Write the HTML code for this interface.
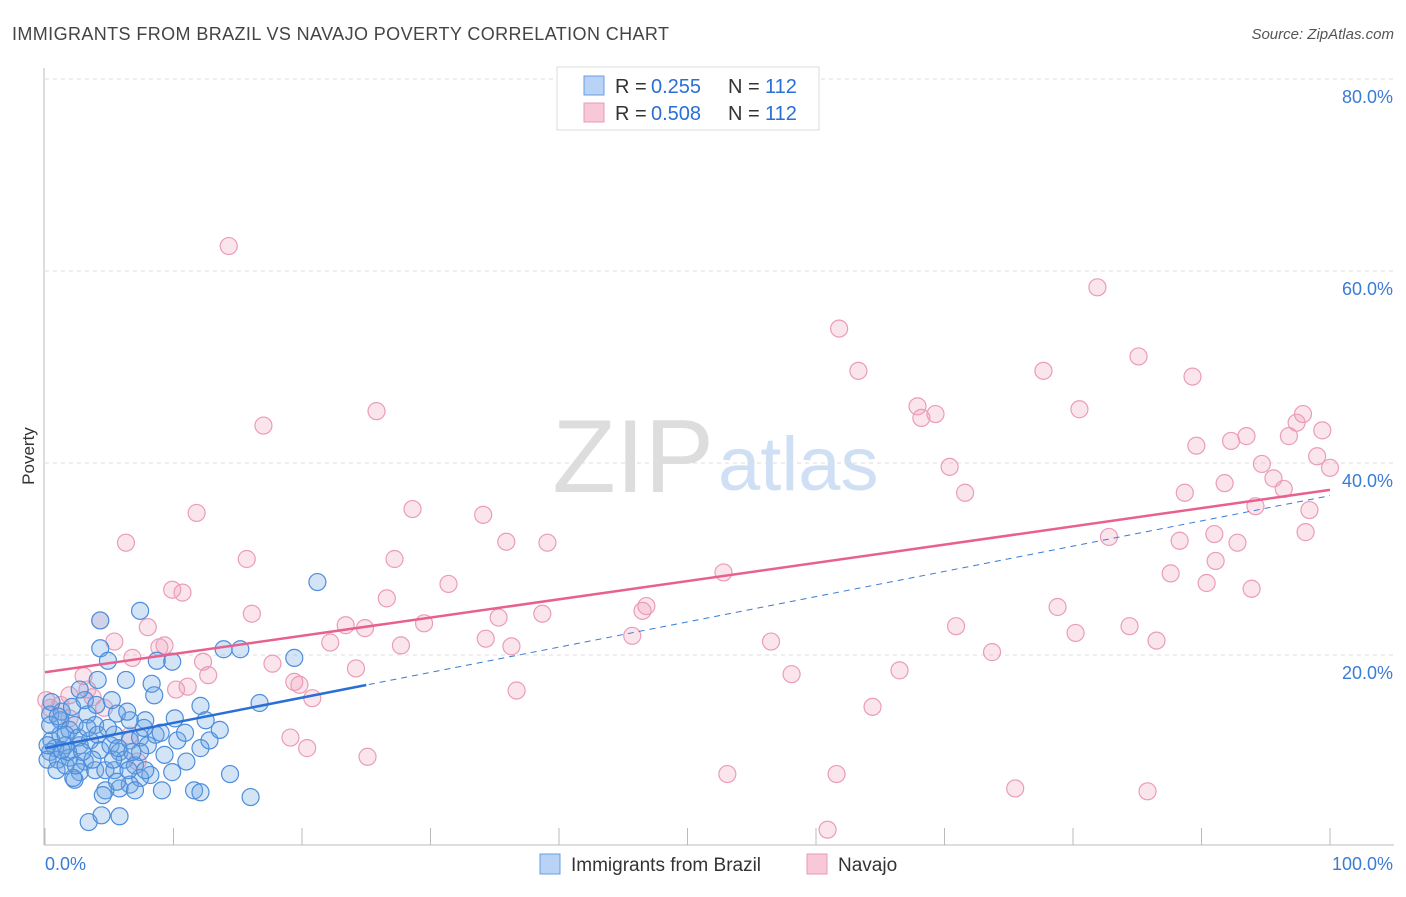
<!DOCTYPE html>
<html><head><meta charset="utf-8"><style>
body{margin:0;background:#fff;font-family:"Liberation Sans",sans-serif}
svg text{font-family:"Liberation Sans",sans-serif}
</style></head><body>
<svg id="c" width="1406" height="892" xmlns="http://www.w3.org/2000/svg">
<text x="12" y="40" font-size="18" fill="#444" textLength="657">IMMIGRANTS FROM BRAZIL VS NAVAJO POVERTY CORRELATION CHART</text>
<text x="1394" y="39" font-size="15" fill="#555" font-style="italic" text-anchor="end">Source: ZipAtlas.com</text>
<text x="714" y="492" font-size="104" fill="#ddd" text-anchor="end" font-family="Liberation Serif">ZIP</text>
<text x="718" y="490" font-size="76" fill="#cfe0f5">atlas</text>
<text x="34" y="456" font-size="17" fill="#333" text-anchor="middle" transform="rotate(-90 34 456)">Poverty</text>
<g id="grid"></g><g id="pts"></g><g id="trend"></g>
<g>
<rect x="557" y="67" width="262" height="63" fill="#fff" stroke="#ddd"/>
<rect x="584" y="76" width="20" height="19" fill="#b8d3f5" stroke="#6a9ee0"/>
<rect x="584" y="103" width="20" height="19" fill="#f8c8d8" stroke="#e99ab5"/>
<text x="615" y="93" font-size="20" fill="#333">R =</text>
<text x="651" y="93" font-size="20" fill="#2a6fd6">0.255</text>
<text x="728" y="93" font-size="20" fill="#333">N =</text>
<text x="765" y="93" font-size="20" fill="#2a6fd6">112</text>
<text x="615" y="120" font-size="20" fill="#333">R =</text>
<text x="651" y="120" font-size="20" fill="#2a6fd6">0.508</text>
<text x="728" y="120" font-size="20" fill="#333">N =</text>
<text x="765" y="120" font-size="20" fill="#2a6fd6">112</text>
</g>
<g>
<rect x="540" y="854" width="20" height="20" fill="#b8d3f5" stroke="#6a9ee0"/>
<text x="571" y="871" font-size="19" fill="#333">Immigrants from Brazil</text>
<rect x="807" y="854" width="20" height="20" fill="#f8c8d8" stroke="#e99ab5"/>
<text x="838" y="871" font-size="19" fill="#333">Navajo</text>
</g>
<text x="45" y="870" font-size="18" fill="#3a7bd5">0.0%</text>
<text x="1393" y="870" font-size="18" fill="#3a7bd5" text-anchor="end">100.0%</text>
</svg>
<script>
const yTicks=[20,40,60,80];
const yTickLabels=["20.0%","40.0%","60.0%","80.0%"];
const xTicks=[0,10,20,30,40,50,60,70,80,90,100];
const blueX=[4.3,7.4,4.3,4.9,6.3,4.1,8.7,9.9,8.3,8.5,13.9,15.2,19.4,21.2,16.7,12.1,10.1,7.8,5.6,3.3,1.2,0.4,0.5,1.2,1.9,2.7,3.5,4.3,5.1,5.8,6.6,7.4,8.0,6.6,5.4,3.9,2.3,1.6,0.8,0.4,1.0,1.9,3.1,3.9,4.7,5.4,2.7,2.3,6.2,7.0,8.2,7.4,6.6,5.8,4.7,4.5,5.6,9.1,9.9,11.6,12.1,14.4,16.0,11.0,12.1,12.8,13.6,10.3,10.9,3.4,4.4,5.8,0.4,1.3,2.1,3.1,1.6,2.6,0.2,0.9,1.6,2.2,3.7,5.3,7.4,7.8,7.0,6.5,8.6,9.3,12.5,3.3,4.1,4.9,1.8,2.9,0.5,1.0,2.7,4.0,5.2,6.4,7.7,9.0,0.2,1.3,2.4,5.7,6.8];
const blueY=[23.6,24.6,20.7,19.4,17.4,17.4,19.4,19.3,17.0,15.8,20.6,20.6,19.7,27.6,15.0,14.7,13.4,13.2,13.9,13.8,13.2,13.8,11.1,11.7,12.2,10.6,11.1,10.1,10.6,9.9,11.1,11.4,10.6,13.2,11.7,12.7,12.7,10.6,10.3,9.9,9.1,9.3,8.9,8.0,8.0,8.0,7.8,7.0,9.1,8.5,7.5,7.2,6.5,6.1,5.9,5.4,6.8,5.9,7.8,5.9,5.7,7.6,5.2,8.9,10.3,11.1,12.2,11.1,11.9,2.6,3.3,3.2,12.7,14.1,14.6,15.3,11.7,11.4,9.1,8.0,8.5,7.2,9.1,9.1,9.9,8.0,5.9,8.0,11.7,9.6,13.2,12.4,11.7,12.4,9.9,9.9,15.1,13.6,16.4,14.8,15.3,14.1,12.4,11.9,10.6,10.1,8.5,10.3,9.9];
const pinkX=[14.3,81.9,61.8,85.1,63.3,77.7,89.3,25.8,67.9,68.2,69.3,80.5,17.0,97.9,97.4,99.4,96.8,93.5,92.3,89.6,99.0,94.7,100,70.4,95.6,96.4,91.8,71.6,88.7,94.2,98.4,11.8,28.6,34.1,6.3,35.9,39.1,82.8,98.1,88.3,92.8,91.0,15.7,27.2,91.1,87.6,52.8,31.4,9.9,10.7,26.6,90.4,93.9,16.1,46.8,46.5,78.8,35.3,38.7,29.5,4.3,8.0,23.4,24.9,70.9,84.4,80.2,8.9,9.3,34.3,45.7,56.5,86.5,22.2,36.3,27.7,5.4,6.8,73.7,17.7,12.3,12.7,24.2,19.4,19.8,58.1,66.5,10.2,11.1,36.7,3.0,3.3,1.9,3.7,1.2,0.4,20.8,64.4,4.6,19.1,20.4,25.1,53.1,61.6,75.5,85.8,60.9,6.6,7.2,1.9,0.1];
const pinkY=[62.6,58.3,54.0,51.1,49.6,49.6,49.0,45.4,45.9,44.7,45.1,45.6,43.9,45.1,44.2,43.4,42.8,42.8,42.3,41.8,40.7,39.9,39.5,39.6,38.4,37.3,37.9,36.9,36.9,35.5,35.1,34.8,35.2,34.6,31.7,31.8,31.7,32.3,32.8,31.9,31.7,32.6,30.0,30.0,29.8,28.5,28.6,27.4,26.8,26.5,25.9,27.5,26.9,24.3,25.1,24.6,25.0,23.9,24.3,23.3,23.6,22.9,23.1,22.8,23.0,23.0,22.3,20.8,21.0,21.7,22.0,21.4,21.5,21.3,20.9,21.0,21.4,19.7,20.3,19.1,19.3,17.9,18.6,17.2,16.9,18.0,18.4,16.4,16.7,16.3,17.8,16.4,15.8,15.6,14.8,14.5,15.5,14.6,14.5,11.4,10.3,9.4,7.6,7.6,6.1,5.8,1.8,11.6,8.9,13.4,15.3];
const blueTrend=[10.3,0.263];
const pinkTrend=[18.2,0.19];
const NS="http://www.w3.org/2000/svg";
const X=v=>45+v*12.85, Y=v=>847-v*9.6;
function mk(t,a,p){const e=document.createElementNS(NS,t);for(const k in a)e.setAttribute(k,a[k]);p.appendChild(e);return e;}
const grid=document.getElementById('grid');
yTicks.forEach((t,i)=>{
 const l=mk('line',{x1:45,x2:1394,y1:Y(t),y2:Y(t),stroke:'#ddd','stroke-dasharray':'4,4'},grid);
 
 
 const tx=mk('text',{x:1393,y:Y(t)+24,'font-size':18,fill:'#3a7bd5','text-anchor':'end'},grid);
 tx.textContent=yTickLabels[i];
 
 
});
mk('line',{x1:44,x2:44,y1:68,y2:845,stroke:'#bbb'},grid);
mk('line',{x1:44,x2:1394,y1:845,y2:845,stroke:'#bbb'},grid);
xTicks.forEach(t=>{const l=mk('line',{x1:X(t),x2:X(t),y1:828,y2:845,stroke:'#bbb'},grid);
 
 });
const pts=document.getElementById('pts');
pinkX.forEach((x,i)=>{const c=mk('circle',{cx:X(x),cy:Y(pinkY[i]),r:8.5,fill:'rgba(240,150,180,0.25)',stroke:'#eb9cb8','stroke-width':1.2},pts);
 
 });
blueX.forEach((x,i)=>{const c=mk('circle',{cx:X(x),cy:Y(blueY[i]),r:8.5,fill:'rgba(110,165,230,0.3)',stroke:'#4d8ddb','stroke-width':1.2},pts);
 
 });
const tr=document.getElementById('trend');
const bmax=Math.max(...blueX)*1.0+3.8;
let l=mk('line',{x1:X(0),y1:Y(blueTrend[0]),x2:X(100),y2:Y(blueTrend[0]+blueTrend[1]*100),stroke:'#3a7bd5','stroke-width':1,'stroke-dasharray':'6,5'},tr);


l=mk('line',{x1:X(0),y1:Y(blueTrend[0]),x2:X(bmax),y2:Y(blueTrend[0]+blueTrend[1]*bmax),stroke:'#2a6fd6','stroke-width':2.5},tr);


l=mk('line',{x1:X(0),y1:Y(pinkTrend[0]),x2:X(100),y2:Y(pinkTrend[0]+pinkTrend[1]*100),stroke:'#e8608e','stroke-width':2.5},tr);


</script>
</body></html>
